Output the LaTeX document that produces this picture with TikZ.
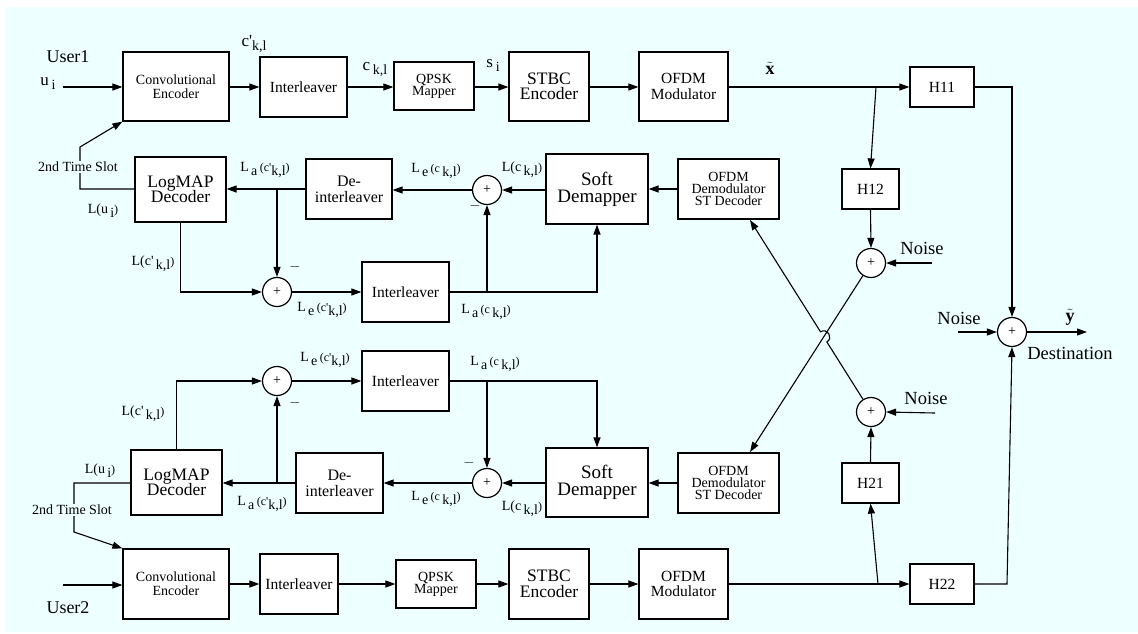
\documentclass[tikz,border=0pt]{standalone}
\usepackage{fontspec}
\setmainfont{Liberation Serif}
\newfontfamily\qf{Liberation Serif}
\usetikzlibrary{arrows.meta}
\definecolor{bgc}{RGB}{238,255,255}
\newcommand{\dn}[1]{\raisebox{-4pt}{#1}}
\newcommand{\smx}[1]{{\fontsize{12}{12}\selectfont #1}}
\newcommand{\fs}[1]{\fontsize{#1}{#1}\selectfont}
\newcommand{\pr}{{\qf\char"0027}}
\begin{document}
\begin{tikzpicture}[x=1pt,y=-1pt,
  box/.style={draw,line width=1.2pt,fill=white,inner sep=1pt,align=center},
  sumc/.style={draw,circle,line width=1.2pt,fill=white,minimum size=29pt,inner sep=0pt,font=\fs{14}},
  conn/.style={line width=1.1pt},
  arr/.style={conn,-{Triangle[length=10pt,width=7pt]}},
  lab/.style={inner sep=0pt,font=\fs{14}}]
\useasboundingbox (0,0) rectangle (1138,633);
\fill[bgc] (6,7) rectangle (1138,632);
% ---------- top row ----------
\node[box,minimum width=106pt,minimum height=69pt,font=\fs{14}] (conv1) at (176,86.5) {Convolutional\\Encoder};
\node[box,minimum width=87pt,minimum height=60pt,font=\fs{15.5}] (int1) at (303.5,87) {Interleaver};
\node[box,minimum width=80pt,minimum height=48pt,font=\fs{14}] (qpsk1) at (434,86) {QPSK\\[-2pt]Mapper};
\node[box,minimum width=80pt,minimum height=69pt,font=\fs{17.5}] (stbc1) at (549,86.5) {STBC\\[-2pt]Encoder};
\node[box,minimum width=89pt,minimum height=69pt,font=\fs{15.5}] (ofdm1) at (683.5,86.5) {OFDM\\Modulator};
\node[box,minimum width=64pt,minimum height=40pt,font=\fs{15.5}] (h11) at (942,87) {H11};
\node[box,minimum width=57pt,minimum height=40pt,font=\fs{15.5}] (h12) at (870.5,189) {H12};
\node[sumc] (sumU) at (871,263) {+};
\node[sumc] (sumD) at (1012,332) {+};
\node[sumc] (sumL) at (871,412) {+};
\node[box,minimum width=57pt,minimum height=40pt,font=\fs{15.5}] (h21) at (870.5,483) {H21};
\node[box,minimum width=64pt,minimum height=40pt,font=\fs{15.5}] (h22) at (942,584) {H22};
% ---------- upper feedback ----------
\node[box,minimum width=91pt,minimum height=65pt,font=\fs{17.5}] (logmap1) at (180.5,189.5) {LogMAP\\[-2pt]Decoder};
\node[box,minimum width=86pt,minimum height=60pt,font=\fs{16}] (deint1) at (349,189) {De-\\interleaver};
\node[sumc] (s1a) at (277,292) {+};
\node[box,minimum width=87pt,minimum height=60pt,font=\fs{15.5}] (int1b) at (405.5,292) {Interleaver};
\node[sumc] (s1b) at (487,190) {+};
\node[box,minimum width=102pt,minimum height=70pt,font=\fs{19}] (soft1) at (597,189) {Soft\\[-2pt]Demapper};
\node[box,minimum width=101pt,minimum height=60pt,font=\fs{14}] (demod1) at (728.5,189) {OFDM\\[-2pt]Demodulator\\[-2pt]ST Decoder};
% ---------- lower feedback ----------
\node[sumc] (s2a) at (277,381) {+};
\node[box,minimum width=87pt,minimum height=60pt,font=\fs{15.5}] (int2b) at (405.5,381) {Interleaver};
\node[box,minimum width=91pt,minimum height=65pt,font=\fs{17.5}] (logmap2) at (176.5,482.5) {LogMAP\\[-2pt]Decoder};
\node[box,minimum width=87pt,minimum height=60pt,font=\fs{16}] (deint2) at (339.5,483) {De-\\interleaver};
\node[sumc] (s2b) at (487,483) {+};
\node[box,minimum width=102pt,minimum height=69pt,font=\fs{19}] (soft2) at (597,482.5) {Soft\\[-2pt]Demapper};
\node[box,minimum width=101pt,minimum height=60pt,font=\fs{14}] (demod2) at (728.5,483) {OFDM\\[-2pt]Demodulator\\[-2pt]ST Decoder};
% ---------- bottom row ----------
\node[box,minimum width=106pt,minimum height=70pt,font=\fs{14}] (conv2) at (176,584) {Convolutional\\Encoder};
\node[box,minimum width=78pt,minimum height=60pt,font=\fs{15.5}] (int2) at (299,584) {Interleaver};
\node[box,minimum width=80pt,minimum height=48pt,font=\fs{14}] (qpsk2) at (436,584) {QPSK\\[-2pt]Mapper};
\node[box,minimum width=80pt,minimum height=70pt,font=\fs{17.5}] (stbc2) at (549,584) {STBC\\[-2pt]Encoder};
\node[box,minimum width=89pt,minimum height=70pt,font=\fs{15.5}] (ofdm2) at (683.5,584) {OFDM\\Modulator};
% ---------- coordinates ----------
\coordinate (in1) at (63,87);
\coordinate (in2) at (63,585);
\coordinate (bU) at (876,87);
\coordinate (bL) at (878,584);
\coordinate (nU) at (932,263);
\coordinate (nL) at (935,413);
\coordinate (nD) at (958,332);
\coordinate (out) at (1087,332);
\coordinate (cD) at (1007,584);
\coordinate (tA) at (750,452);
\coordinate (tB) at (750,220);
\coordinate (P1) at (826.9,342.0);
\coordinate (P1c) at (833.7,337.7);
\coordinate (P2c) at (827.3,327.5);
\coordinate (P2) at (820.5,331.8);
\coordinate (k1a) at (80,189);
\coordinate (k1b) at (80,147);
\coordinate (k2a) at (74,483);
\coordinate (k2b) at (74,532);
\coordinate (jU) at (277,189);
\coordinate (jB) at (487,292);
\coordinate (jU2) at (277,483);
\coordinate (jB2) at (487,381);
% ---------- top row connectors ----------
\draw[arr] (in1) -- (conv1.west |- in1);
\draw[arr] (conv1.east |- int1) -- (int1.west);
\draw[arr] (int1.east) -- (qpsk1.west |- int1);
\draw[arr] (qpsk1.east |- int1) -- (stbc1.west |- int1);
\draw[arr] (stbc1.east |- int1) -- (ofdm1.west |- int1);
\draw[arr] (ofdm1.east |- h11) -- (h11.west);
\draw[arr] (bU) -- (h12.north);
\draw[arr] (h11.east) -| (sumD.north);
\draw[arr] (h12.south) -- (sumU.north);
\draw[arr] (nU) -- (sumU.east);
\draw[arr] (sumU) -- (tA);
\draw[arr] (sumL) -- (P1) .. controls (P1c) and (P2c) .. (P2) -- (tB);
\draw[arr] (nL) -- (sumL.east);
\draw[arr] (h21.north) -- (sumL.south);
\draw[arr] (ofdm2.east |- h22) -- (h22.west);
\draw[arr] (bL) -- (h21.south);
\draw[arr] (h22.east) -- (cD) -- (sumD.south);
\draw[arr] (nD) -- (sumD.west);
\draw[arr] (sumD.east) -- (out);
% ---------- upper feedback connectors ----------
\draw[arr] (demod1.west) -- (soft1.east |- demod1.west);
\draw[arr] (soft1.west |- s1b) -- (s1b.east);
\draw[arr] (s1b.west) -- (deint1.east |- s1b);
\draw[arr] (deint1.west) -- (logmap1.east |- deint1.west);
\draw[arr] (jU) -- (s1a.north);
\draw[arr] (logmap1.south) |- (s1a.west);
\draw[arr] (s1a.east) -- (int1b.west);
\draw[arr] (int1b.east) -| (soft1.south);
\draw[arr] (jB) -- (s1b.south);
\draw[arr] (logmap1.west |- k1a) -- (k1a) -- (k1b) -- (conv1.south west);
% ---------- lower feedback connectors ----------
\draw[arr] (demod2.west) -- (soft2.east |- demod2.west);
\draw[arr] (soft2.west |- s2b) -- (s2b.east);
\draw[arr] (s2b.west) -- (deint2.east |- s2b);
\draw[arr] (deint2.west) -- (logmap2.east |- deint2.west);
\draw[arr] (jU2) -- (s2a.south);
\draw[arr] (logmap2.north) |- (s2a.west);
\draw[arr] (s2a.east) -- (int2b.west);
\draw[arr] (int2b.east) -| (soft2.north);
\draw[arr] (jB2) -- (s2b.north);
\draw[arr] (logmap2.west |- k2a) -- (k2a) -- (k2b) -- (conv2.north west);
% ---------- bottom row connectors ----------
\draw[arr] (in2) -- (conv2.west |- in2);
\draw[arr] (conv2.east |- int2) -- (int2.west);
\draw[arr] (int2.east) -- (qpsk2.west |- int2);
\draw[arr] (qpsk2.east |- int2) -- (stbc2.west |- int2);
\draw[arr] (stbc2.east |- int2) -- (ofdm2.west |- int2);
% ---------- labels ----------
\node[lab,font=\fs{18}] (user1) at (68,57) {User1};
\node[lab,font=\fs{18}] (user2) at (68,608) {User2};
\node[lab,font=\fs{17}] (ui) at (48,84) {u\,\dn{\fs{14}i}};
\node[lab,font=\fs{17}] (cp) at (254,44) {c\pr\dn{\fs{14}k,l}};
\node[lab,font=\fs{17}] (ckl) at (375,70) {c\,\dn{\fs{14}k,l}};
\node[lab,font=\fs{17}] (si) at (493,65) {s\,\dn{\fs{14}i}};
\node[lab,font=\fs{18}] (xt) at (770,68) {$\tilde{\mathbf{x}}$};
\node[lab,font=\fs{18}] (yt) at (1070,317) {$\tilde{\mathbf{y}}$};
\node[lab,font=\fs{18.5}] (dest) at (1070,353) {Destination};
\node[lab,font=\fs{18.5}] (noiseU) at (922,248) {Noise};
\node[lab,font=\fs{18.5}] (noiseL) at (926,398) {Noise};
\node[lab,font=\fs{18.5}] (noiseD) at (959,318) {Noise};
\node[lab,fill=bgc,inner sep=1pt,font=\fs{14}] (ts1) at (78,167) {2nd Time Slot};
\node[lab,fill=bgc,inner sep=1pt,font=\fs{14}] (ts2) at (72,510) {2nd Time Slot};
% upper feedback labels
\node[lab] (lu1) at (103,211) {L(u\,\dn{i}\smx{)}};
\node[lab] (lc1) at (153,264) {L(c\pr\,\dn{k,l}\smx{)}};
\node[lab] (la1) at (265,170) {L\,\dn{a}\,\smx{(c\pr}\dn{k,l}\smx{)}};
\node[lab] (m1) at (295,267) {$-$};
\node[lab] (le1) at (322,310) {L\,\dn{e}\,\smx{(c\pr}\dn{k,l}\smx{)}};
\node[lab] (lac1) at (486,312) {L\,\dn{a}\,\smx{(c}\,\dn{k,l}\smx{)}};
\node[lab] (m2) at (475,206) {$-$};
\node[lab] (lc2) at (522,170) {L(c\,\dn{k,l}\smx{)}};
\node[lab] (lec1) at (436,171) {L\,\dn{e}\,\smx{(c}\,\dn{k,l}\smx{)}};
% lower feedback labels
\node[lab] (lc3) at (143,414) {L(c\pr\,\dn{k,l}\smx{)}};
\node[lab] (lu2) at (100,471) {L(u\,\dn{i}\smx{)}};
\node[lab] (m3) at (295,403) {$-$};
\node[lab] (la2) at (262,504) {L\,\dn{a}\,\smx{(c\pr}\dn{k,l}\smx{)}};
\node[lab] (le2) at (325,360) {L\,\dn{e}\,\smx{(c\pr}\dn{k,l}\smx{)}};
\node[lab] (lac2) at (495,364) {L\,\dn{a}\,\smx{(c}\,\dn{k,l}\smx{)}};
\node[lab] (m4) at (469,463) {$-$};
\node[lab] (lc4) at (522,509) {L(c\,\dn{k,l}\smx{)}};
\node[lab] (lec2) at (436,499) {L\,\dn{e}\,\smx{(c}\,\dn{k,l}\smx{)}};
\end{tikzpicture}
\end{document}
